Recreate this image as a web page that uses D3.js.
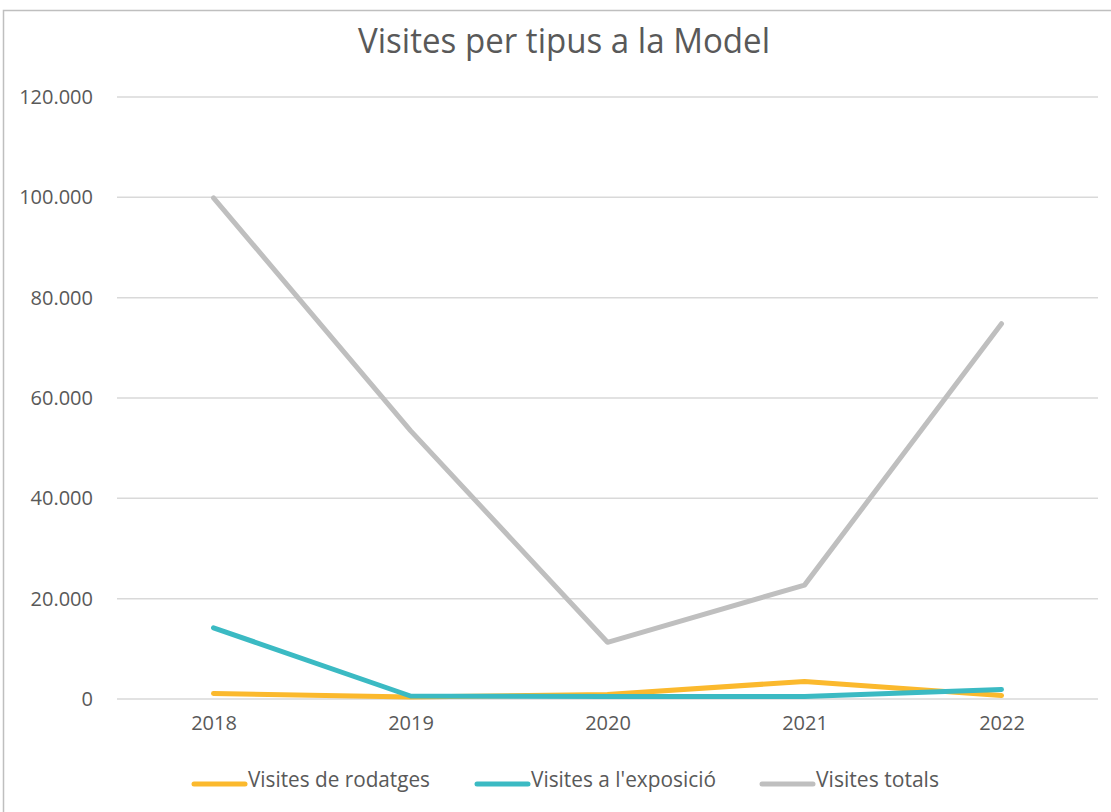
<!DOCTYPE html>
<html>
<head>
<meta charset="utf-8">
<script src="https://cdn.jsdelivr.net/npm/d3@7"></script>
<style>
  html, body { margin: 0; padding: 0; background: #fff; }
  svg { display: block; }
</style>
</head>
<body>
<div id="chart"></div>
<script>
// data
var years = ["2018", "2019", "2020", "2021", "2022"];
var rodatges = [1100, 400, 900, 3500, 700];
var exposicio = [14200, 600, 500, 500, 1900];
var totals = [99900, 53500, 11300, 22700, 74800];
var yTicks = [0, 20000, 40000, 60000, 80000, 100000, 120000];

var seriesNames = ["Visites de rodatges", "Visites a l'exposició", "Visites totals"];
var seriesColors = ["#FBB92D", "#3BBAC3", "#BFBFBF"];

// size
var svgBGW = 1111, svgBGH = 812;
var margin = {top: 97, right: 11, bottom: 113, left: 115};
var svgW = svgBGW - margin.left - margin.right;
var svgH = 699 - margin.top;

var fontFam = "'Open Sans', 'Noto Sans', sans-serif";
var textCol = "#595959";

var locale = d3.formatLocale({decimal: ",", thousands: ".", grouping: [3], currency: ["", "€"]});
var fmt = locale.format(",.0f");

var svgBG = d3.select("#chart").append("svg")
    .attr("width", svgBGW).attr("height", svgBGH);

// chart border
svgBG.append("rect")
    .attr("x", 3.5).attr("y", 10.5)
    .attr("width", 1130).attr("height", 830)
    .attr("fill", "none").attr("stroke", "#BFBFBF").attr("stroke-width", 1.5);

// title
svgBG.append("text")
    .attr("x", 564).attr("y", 53)
    .attr("text-anchor", "middle")
    .attr("font-family", fontFam)
    .attr("font-size", 34)
    .attr("fill", textCol)
    .attr("textLength", 412)
    .attr("lengthAdjust", "spacingAndGlyphs")
    .text("Visites per tipus a la Model");

var svg = svgBG.append("g")
    .attr("transform", "translate(" + margin.left + "," + margin.top + ")");

var xScale = d3.scalePoint()
    .domain(years)
    .range([0, svgW])
    .padding(0.5);

var yScale = d3.scaleLinear()
    .domain([0, 120000])
    .range([svgH, 0]);

// grid
svg.append("g")
    .selectAll("line")
    .data(yTicks)
    .enter().append("line")
    .attr("x1", 2).attr("x2", svgW - 2)
    .attr("y1", function(d) { return yScale(d); })
    .attr("y2", function(d) { return yScale(d); })
    .attr("stroke", "#D9D9D9")
    .attr("stroke-width", 1.5);

// y axis
var yAxis = svg.append("g")
    .call(d3.axisLeft(yScale).tickValues(yTicks).tickFormat(function(d) { return fmt(d); }).tickSize(0).tickPadding(22));
yAxis.select(".domain").remove();
yAxis.selectAll("text")
    .attr("font-family", fontFam)
    .attr("font-size", 20)
    .attr("fill", textCol);

// x axis
var xAxis = svg.append("g")
    .attr("transform", "translate(0," + svgH + ")")
    .call(d3.axisBottom(xScale).tickSize(0).tickPadding(17));
xAxis.select(".domain").remove();
xAxis.selectAll("text")
    .attr("font-family", fontFam)
    .attr("font-size", 20)
    .attr("fill", textCol);

// lines
var seriesData = [rodatges, exposicio, totals];
var line = d3.line()
    .x(function(d, i) { return xScale(years[i]); })
    .y(function(d) { return yScale(d); });

// totals first, then rodatges, then exposició on top
[2, 0, 1].forEach(function(k) {
    svg.append("path")
        .datum(seriesData[k])
        .attr("d", line)
        .attr("fill", "none")
        .attr("stroke", seriesColors[k])
        .attr("stroke-width", 5)
        .attr("stroke-linecap", "round")
        .attr("stroke-linejoin", "round");
});

// legend
var legendX = [192, 475, 760];
var legendW = [182, 185, 123];
var legend = svgBG.append("g")
    .selectAll("g")
    .data(seriesNames)
    .enter().append("g")
    .attr("transform", function(d, i) { return "translate(" + legendX[i] + ",784)"; });

legend.append("line")
    .attr("x1", 2).attr("x2", 53)
    .attr("y1", 0).attr("y2", 0)
    .attr("stroke", function(d, i) { return seriesColors[i]; })
    .attr("stroke-width", 5)
    .attr("stroke-linecap", "round");

legend.append("text")
    .attr("x", 56).attr("y", 3)
    .attr("font-family", fontFam)
    .attr("font-size", 21)
    .attr("fill", textCol)
    .attr("textLength", function(d, i) { return legendW[i]; })
    .attr("lengthAdjust", "spacingAndGlyphs")
    .text(function(d) { return d; });
</script>
</body>
</html>
